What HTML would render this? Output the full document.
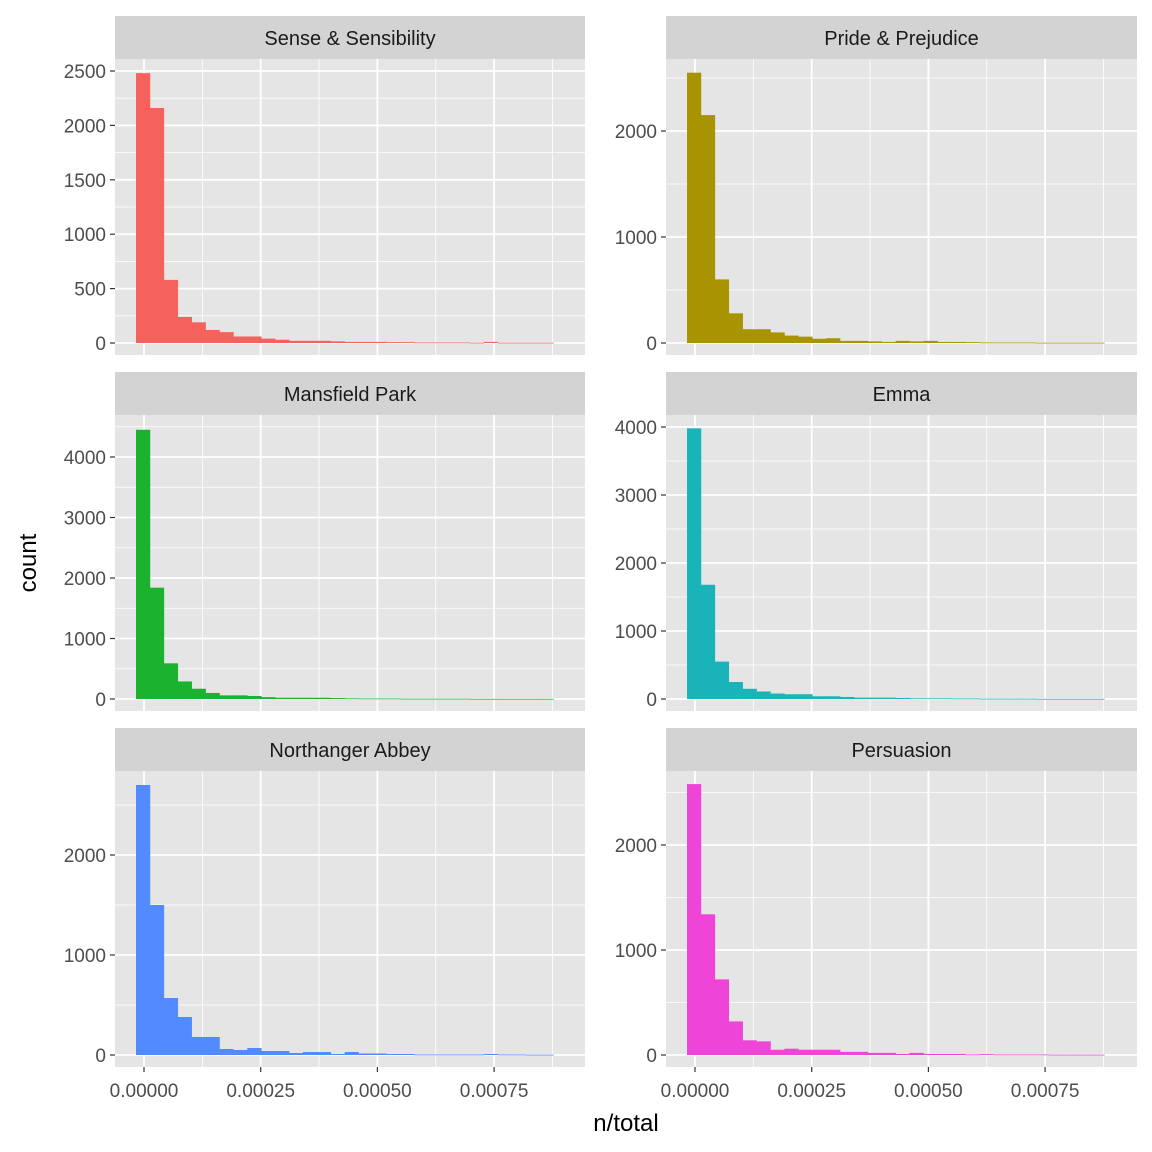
<!DOCTYPE html>
<html><head><meta charset="utf-8">
<style>
html,body{margin:0;padding:0;background:#fff;}
svg{display:block;font-family:"Liberation Sans",Arial,sans-serif;}
</style></head>
<body>
<svg id="chart" width="1152" height="1152" viewBox="0 0 1152 1152" xmlns="http://www.w3.org/2000/svg">
<text x="626" y="1131" font-size="24" text-anchor="middle" fill="#000">n/total</text>
<text transform="translate(36,563) rotate(-90)" font-size="24" text-anchor="middle" fill="#000">count</text>
</svg>
<script>
const titles = ["Sense & Sensibility","Pride & Prejudice","Mansfield Park","Emma","Northanger Abbey","Persuasion"];
const colors = ["#F5625C","#A89300","#1BB22F","#19B4B9","#528AFF","#EE44D8"];
const binStart = -0.0000171;
const binWidth = 0.0000298;
const xTicks = [0, 0.00025, 0.0005, 0.00075];
const xTickLabels = ["0.00000","0.00025","0.00050","0.00075"];
const countsSS = [2480,2160,580,240,190,120,100,60,60,40,30,20,20,20,15,10,10,10,8,8,5,5,5,5,3,10,3,3,3,3];
const countsPP = [2550,2150,600,280,130,130,100,70,60,40,45,20,20,15,10,20,15,20,10,10,8,5,5,5,5,3,3,3,3,3];
const countsMP = [4450,1840,590,290,170,100,60,60,50,30,20,20,20,20,15,10,8,8,8,5,5,5,5,5,3,3,3,3,3,3];
const countsEM = [3980,1680,550,250,150,110,80,70,70,40,40,30,20,20,20,15,10,10,10,8,8,5,5,5,5,3,3,3,3,3];
const countsNA = [2700,1500,570,380,180,180,60,50,70,40,40,20,30,30,10,30,15,15,10,10,5,5,5,5,5,10,5,5,3,3];
const countsPE = [2580,1340,720,320,140,130,50,60,50,50,50,30,30,20,20,10,20,10,10,10,5,8,5,5,5,5,3,3,3,3];
const yTicksSS = [0,500,1000,1500,2000,2500];
const yTicksPP = [0,1000,2000];
const yTicksMP = [0,1000,2000,3000,4000];
const yTicksEM = [0,1000,2000,3000,4000];
const yTicksNA = [0,1000,2000];
const yTicksPE = [0,1000,2000];
const allCounts=[countsSS,countsPP,countsMP,countsEM,countsNA,countsPE];
const allYTicks=[yTicksSS,yTicksPP,yTicksMP,yTicksEM,yTicksNA,yTicksPE];
const yRef=[[2500,272],[2000,212],[4000,242],[4000,272],[2000,200],[2000,210]];
const svg=document.getElementById('chart');
const NS="http://www.w3.org/2000/svg";
function mk(tag,attrs,parent){const e=document.createElementNS(NS,tag);for(const k in attrs)e.setAttribute(k,attrs[k]);(parent||svg).appendChild(e);return e;}
const colX=[[115,585,144],[666,1137,695]];
const rowY=[[16,59,355,343],[372,415,711,699],[728,771,1067,1055]];
const pxPerUnit=116.7/0.00025;
for(let p=0;p<6;p++){
  const c=colX[p%2], r=rowY[Math.floor(p/2)];
  const g=mk('g',{});
  
  
  const xs=v=>c[2]+v*pxPerUnit;
  const ys=v=>r[3]-v*yRef[p][1]/yRef[p][0];
  const strip=mk('rect',{x:c[0],y:r[0],width:c[1]-c[0],height:r[1]-r[0],fill:'#D3D3D3'},g);
  
  
  const st=mk('text',{x:(c[0]+c[1])/2,y:r[0]+29,'font-size':20,'text-anchor':'middle',fill:'#1A1A1A'},g);
  st.textContent=titles[p];
  
  
  mk('rect',{x:c[0],y:r[1],width:c[1]-c[0],height:r[2]-r[1],fill:'#E5E5E5'},g);
  for(let i=0;i<xTicks.length;i++){
    const mx=xs(xTicks[i]+0.000125);
    if(mx<c[1]) mk('line',{x1:mx,x2:mx,y1:r[1],y2:r[2],stroke:'#fff','stroke-width':0.8},g);
  }
  const yt=allYTicks[p];
  const step=yt[1]-yt[0];
  for(let v=step/2; ys(v)>r[1]; v+=step){
    mk('line',{x1:c[0],x2:c[1],y1:ys(v),y2:ys(v),stroke:'#fff','stroke-width':0.8},g);
  }
  xTicks.forEach((t,i)=>{
    const x=xs(t);
    mk('line',{x1:x,x2:x,y1:r[1],y2:r[2],stroke:'#fff','stroke-width':1.8},g);
    if(p>=4){
      mk('line',{x1:x,x2:x,y1:r[2],y2:r[2]+5,stroke:'#333','stroke-width':1.2},g);
      const tl=mk('text',{x:x,y:r[2]+30,'font-size':19,'text-anchor':'middle',fill:'#4D4D4D'},g);
      tl.textContent=xTickLabels[i];
      
      
    }
  });
  yt.forEach(v=>{
    const y=ys(v);
    mk('line',{x1:c[0],x2:c[1],y1:y,y2:y,stroke:'#fff','stroke-width':1.8},g);
    mk('line',{x1:c[0]-5,x2:c[0],y1:y,y2:y,stroke:'#333','stroke-width':1.2},g);
    const tl=mk('text',{x:c[0]-9,y:y+7,'font-size':19,'text-anchor':'end',fill:'#4D4D4D'},g);
    tl.textContent=String(v);
    
    
  });
  allCounts[p].forEach((n,i)=>{
    const x0=xs(binStart+i*binWidth), x1=xs(binStart+(i+1)*binWidth);
    const y=ys(n);
    const b=mk('rect',{x:x0,y:y,width:x1-x0+0.3,height:Math.max(r[3]-y,0.8),fill:colors[p]},g);
    
    
  });
}
</script>
</body></html>
